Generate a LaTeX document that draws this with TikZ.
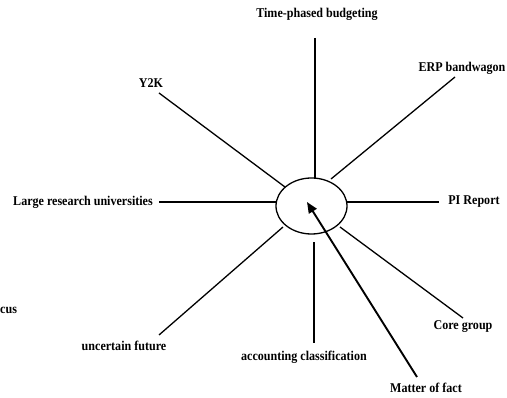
\documentclass[tikz,border=0pt]{standalone}
\usepackage{fontspec}
\setmainfont{Liberation Serif}
\newfontfamily\lblfont[FakeStretch=0.9]{Liberation Serif Bold}
\usetikzlibrary{shapes.geometric,arrows.meta}
\begin{document}
\begin{tikzpicture}[x=1pt,y=-1pt,
  lbl/.style={font=\lblfont\fontsize{13.4}{15}\selectfont, inner sep=0pt},
  spoke/.style={line width=1.3pt},
  hubstyle/.style={draw, ellipse, line width=1.3pt, minimum width=71pt, minimum height=56pt, inner sep=0pt},
  pointer/.style={line width=1.9pt, -{Triangle[length=11pt,width=9pt]}}]
\useasboundingbox (0,0) rectangle (507,398);
\node[hubstyle] (hub) at (311.5,206) {};
\node[lbl] (tpb) at (317,14) {Time-phased budgeting};
\node[lbl] (erp) at (462,68) {ERP bandwagon};
\node[lbl] (y2k) at (151,83) {Y2K};
\node[lbl] (lru) at (83,202) {Large research universities};
\node[lbl] (pi) at (474,202) {PI Report};
\node[lbl, anchor=west] (cus) at (0,310) {cus};
\node[lbl] (unc) at (124,346) {uncertain future};
\node[lbl] (acc) at (304,357) {accounting classification};
\node[lbl] (core) at (463,327) {Core group};
\node[lbl] (mof) at (426,388) {Matter of fact};
% spoke end points
\coordinate (tpb-a) at (315,38);  \coordinate (tpb-b) at (315,178);
\coordinate (erp-a) at (455,77);  \coordinate (erp-b) at (331,179);
\coordinate (y2k-a) at (159,93);  \coordinate (y2k-b) at (285,187);
\coordinate (lru-a) at (159,202); \coordinate (lru-b) at (277,202);
\coordinate (pi-a) at (439,202);  \coordinate (pi-b) at (347,202);
\coordinate (unc-a) at (159,335); \coordinate (unc-b) at (283,227);
\coordinate (acc-a) at (314,343); \coordinate (acc-b) at (314,242);
\coordinate (core-a) at (463,318); \coordinate (core-b) at (340,227);
\coordinate (mof-a) at (417,377); \coordinate (mof-b) at (307,202);
\draw[spoke] (tpb-a) -- (tpb-b);
\draw[spoke] (erp-a) -- (erp-b);
\draw[spoke] (y2k-a) -- (y2k-b);
\draw[spoke] (lru-a) -- (lru-b);
\draw[spoke] (pi-a) -- (pi-b);
\draw[spoke] (unc-a) -- (unc-b);
\draw[spoke] (acc-a) -- (acc-b);
\draw[spoke] (core-a) -- (core-b);
\draw[pointer] (mof-a) -- (mof-b);
\end{tikzpicture}
\end{document}
